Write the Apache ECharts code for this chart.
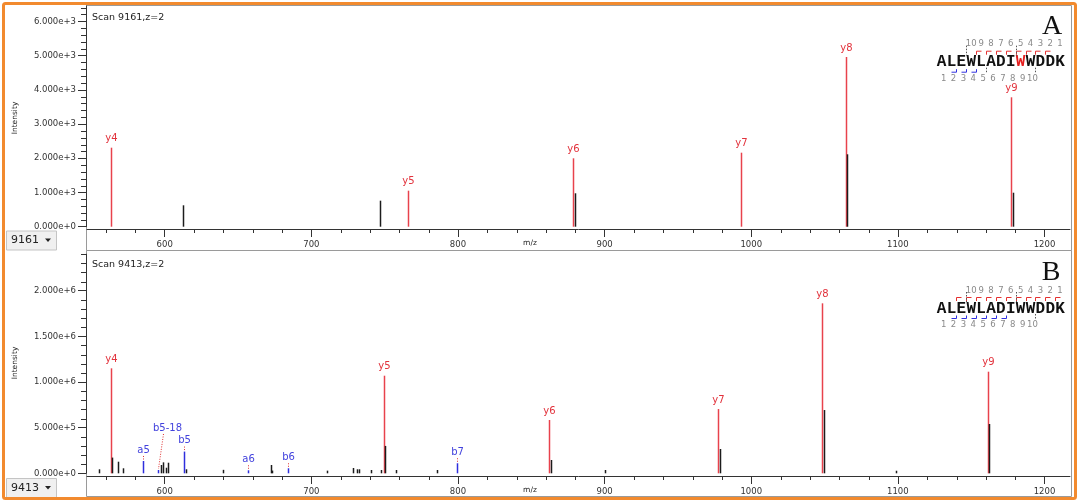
<!DOCTYPE html>
<html><head><meta charset="utf-8">
<script src="https://cdn.jsdelivr.net/npm/echarts@6/dist/echarts.min.js"></script>
<style>html,body{margin:0;padding:0;background:#fff}#c{width:1080px;height:503px}</style>
</head><body><div id="c"></div>
<script>
// ---------- data ----------
const xMajorTicks = [600, 700, 800, 900, 1000, 1100, 1200];
const xMinorTicks = [560, 580, 620, 640, 660, 680, 720, 740, 760, 780, 820, 840, 860, 880, 920, 940, 960, 980, 1020, 1040, 1060, 1080, 1120, 1140, 1160, 1180];
const yTopMajor = [0, 1000, 2000, 3000, 4000, 5000, 6000];
const yTopMinor = [200, 400, 600, 800, 1200, 1400, 1600, 1800, 2200, 2400, 2600, 2800, 3200, 3400, 3600, 3800, 4200, 4400, 4600, 4800, 5200, 5400, 5600, 5800, 6200, 6400];
const yBotMajor = [0, 500000, 1000000, 1500000, 2000000];
const yBotMinor = [100000, 200000, 300000, 400000, 600000, 700000, 800000, 900000, 1100000, 1200000, 1300000, 1400000, 1600000, 1700000, 1800000, 1900000, 2100000, 2200000, 2300000, 2400000];

// Scan 9161 (panel A)
const topYMz = [563.4, 765.7, 878.5, 993.2, 1064.4, 1177.0];
const topYInt = [2308, 1052, 1998, 2162, 4958, 3780];
const topYLabels = ['y4', 'y5', 'y6', 'y7', 'y8', 'y9'];
const topOtherMz = [612.5, 747.0, 879.9, 1065.5, 1178.5];
const topOtherInt = [625, 760, 976, 2115, 993];

// Scan 9413 (panel B)
const botYMz = [563.2, 749.4, 862.1, 977.1, 1048.1, 1161.7];
const botYInt = [1150000, 1069000, 584000, 704000, 1862000, 1113000];
const botYLabels = ['y4', 'y5', 'y6', 'y7', 'y8', 'y9'];
const botBMz = [585.4, 595.6, 613.4, 656.8, 684.3, 799.6];
const botBInt = [135000, 36000, 238000, 33000, 55000, 110000];
const botBLabels = ['a5', 'b5-18', 'b5', 'a6', 'b6', 'b7'];
const botOtherMz = [555.0, 564.1, 568.4, 571.4, 597.5, 599.0, 600.7, 602.3, 614.7, 639.6, 672.3, 673.2, 710.5, 728.6, 731.4, 732.7, 740.7, 747.3, 750.2, 757.5, 785.5, 863.7, 900.5, 978.7, 1049.6, 1098.5, 1162.4];
const botOtherInt = [44000, 172000, 127000, 55000, 91000, 120000, 61000, 116000, 44000, 38000, 91000, 30000, 29000, 58000, 44000, 44000, 36000, 36000, 300000, 36000, 36000, 146000, 36000, 266000, 693000, 28000, 540000];

const sequence = 'ALEWLADIWWDDK';

// ---------- styling ----------
const RED = '#E8424C', RED_TXT = '#E2323C', BLUE = '#2E2EDD', BLUE_TXT = '#4242DD', BLACK = '#1c1c1c';
const FONT = 'DejaVu Sans';
const labelOffsets = { 'b5-18': [9, -31] };
const X_MIN = 547, X_MAX = 1217.4;
const X_OFF = [2.3, 2.7];

function zip(a, b) { return a.map((v, i) => [v, b[i]]); }

function peakSeries(gi, mz, inten, color, labels, labelColor, connector, z) {
  return {
    type: 'custom', xAxisIndex: gi, yAxisIndex: gi, z: z || 2, clip: false,
    data: zip(mz, inten),
    renderItem: function (params, api) {
      const top = api.coord([api.value(0), api.value(1)]);
      const base = api.coord([api.value(0), 0]);
      const x = Math.round(top[0]) + 0.5;
      const children = [{
        type: 'line',
        shape: { x1: x, y1: base[1], x2: x, y2: top[1] },
        style: { stroke: color, lineWidth: 1.5 }
      }];
      if (labels) {
        const t = labels[params.dataIndex];
        const off = labelOffsets[t] || [0, 0];
        const gap = connector ? 6 : 4;
        const lx = x + off[0], ly = top[1] - gap + off[1];
        children.push({
          type: 'text',
          style: { text: t, x: lx, y: ly, align: 'center', verticalAlign: 'bottom', fill: labelColor, font: '10px "' + FONT + '"' }
        });
        if (connector) {
          children.push({
            type: 'line',
            shape: { x1: off[0] ? lx - 4 : x, y1: ly + 1, x2: x, y2: top[1] - 1 },
            style: { stroke: '#E03030', lineWidth: 1, lineDash: [1, 1.5] }
          });
        }
      }
      return { type: 'group', children: children };
    }
  };
}

// minor tick marks placed through the axes' own scales
function minorTickSeries(gi, dim, values) {
  return {
    type: 'custom', xAxisIndex: gi, yAxisIndex: gi, z: 5, clip: false, silent: true,
    data: values.map(v => [v]),
    renderItem: function (params, api) {
      const v = api.value(0);
      if (dim === 'x') {
        const p = api.coord([v, 0]);
        const x = Math.round(p[0]) + 0.5, y = p[1] + X_OFF[gi];
        return { type: 'line', shape: { x1: x, y1: y, x2: x, y2: y + 4 }, style: { stroke: '#333', lineWidth: 1 } };
      } else {
        const p = api.coord([X_MIN, v]);
        const y = Math.round(p[1]) + 0.5, x = p[0] - 1;
        return { type: 'line', shape: { x1: x - 5, y1: y, x2: x, y2: y }, style: { stroke: '#333', lineWidth: 1 } };
      }
    }
  };
}

// ---------- axes ----------
function xAxis(grid) {
  return { type: 'value', gridIndex: grid, position: 'bottom', min: X_MIN, max: X_MAX, offset: X_OFF[grid],
    axisLine: { show: true, onZero: false, lineStyle: { color: '#333', width: 1 } },
    axisTick: { show: true, inside: false, customValues: xMajorTicks, length: 8, lineStyle: { color: '#333' } },
    axisLabel: { show: true, customValues: xMajorTicks, fontSize: 8.5, fontFamily: FONT, color: '#333', margin: 11,
      formatter: v => String(Math.round(v)) },
    splitLine: { show: false } };
}
function yAxis(grid, max, major) {
  return { type: 'value', gridIndex: grid, position: 'left', min: 0, max: max, offset: 1,
    axisLine: { show: true, onZero: false, lineStyle: { color: '#333', width: 1 } },
    axisTick: { show: true, inside: false, customValues: major, length: 8, lineStyle: { color: '#333' } },
    axisLabel: { show: true, customValues: major, fontSize: 8.5, fontFamily: FONT, color: '#333', margin: 10,
      formatter: v => Number(v).toExponential(3) },
    splitLine: { show: false } };
}

// ---------- sequence annotation graphics ----------
const CH_W = 9.87, SEQ_X0 = 936.7;
function seqGraphics(cy, modIndex, redB, blueB, dotTop, dotBot) {
  const g = [];
  for (let i = 0; i < sequence.length; i++) {
    g.push({ type: 'text', silent: true, style: { text: sequence[i], x: SEQ_X0 + (i + 0.5) * CH_W, y: cy + 0.5, align: 'center', verticalAlign: 'middle',
      font: 'bold 16px "Liberation Mono"', fill: i === modIndex ? '#E41E1E' : '#111' } });
  }
  for (let n = 1; n <= 10; n++) {
    g.push({ type: 'text', silent: true, style: { text: String(n), x: SEQ_X0 + (13 - n + 0.5) * CH_W, y: cy - 17.5, align: 'center', verticalAlign: 'middle', font: '8.5px "' + FONT + '"', fill: '#8a8a8a' } });
    g.push({ type: 'text', silent: true, style: { text: String(n), x: SEQ_X0 + (n - 1 + 0.5) * CH_W + 2, y: cy + 17, align: 'center', verticalAlign: 'middle', font: '8.5px "' + FONT + '"', fill: '#8a8a8a' } });
  }
  redB.forEach(k => {
    const bx = Math.round(SEQ_X0 + k * CH_W) + 0.5;
    g.push({ type: 'polyline', silent: true, shape: { points: [[bx, cy - 7], [bx, cy - 10.5], [bx + 5, cy - 10.5]] }, style: { stroke: '#E53030', lineWidth: 1, fill: null } });
  });
  blueB.forEach(k => {
    const bx = Math.round(SEQ_X0 + k * CH_W) + 0.5;
    g.push({ type: 'polyline', silent: true, shape: { points: [[bx - 5, cy + 10.5], [bx, cy + 10.5], [bx, cy + 7.5]] }, style: { stroke: '#3030E0', lineWidth: 1, fill: null } });
  });
  dotTop.forEach(k => {
    const bx = Math.round(SEQ_X0 + k * CH_W) + 0.5;
    g.push({ type: 'line', silent: true, shape: { x1: bx, y1: cy - 16, x2: bx, y2: cy - 6 }, style: { stroke: '#555', lineWidth: 1, lineDash: [1.5, 1.5] } });
  });
  dotBot.forEach(k => {
    const bx = Math.round(SEQ_X0 + k * CH_W) + 0.5;
    g.push({ type: 'line', silent: true, shape: { x1: bx, y1: cy + 6, x2: bx, y2: cy + 12 }, style: { stroke: '#555', lineWidth: 1, lineDash: [1.5, 1.5] } });
  });
  return g;
}

function comboBox(y, text) {
  return [
    { type: 'rect', silent: true, shape: { x: 6.5, y: y + 0.5, width: 50, height: 19 }, style: { fill: '#f0f0f0', stroke: '#c4c4c4', lineWidth: 1 } },
    { type: 'text', silent: true, style: { text: text, x: 11, y: y + 10, verticalAlign: 'middle', font: '11px "' + FONT + '"', fill: '#222' } },
    { type: 'polygon', silent: true, shape: { points: [[45, y + 8], [51, y + 8], [48, y + 11.5]] }, style: { fill: '#222' } }
  ];
}

const graphics = [].concat(
  [
    { type: 'rect', silent: true, z: -1, shape: { x: 86.5, y: 5.5, width: 985, height: 245 }, style: { fill: null, stroke: '#9a9a9a', lineWidth: 1 } },
    { type: 'rect', silent: true, z: -1, shape: { x: 86.5, y: 250.5, width: 985, height: 246 }, style: { fill: null, stroke: '#9a9a9a', lineWidth: 1 } },
    { type: 'rect', silent: true, z: 100, shape: { x: 3.5, y: 3.5, width: 1072, height: 495, r: 2 }, style: { fill: null, stroke: '#F28A2E', lineWidth: 3 } },
    { type: 'text', silent: true, style: { text: 'Scan 9161,z=2', x: 92, y: 18, verticalAlign: 'middle', font: '9.5px "' + FONT + '"', fill: '#222' } },
    { type: 'text', silent: true, style: { text: 'Scan 9413,z=2', x: 92, y: 265, verticalAlign: 'middle', font: '9.5px "' + FONT + '"', fill: '#222' } },
    { type: 'text', silent: true, rotation: Math.PI / 2, x: 15, y: 118, style: { text: 'Intensity', x: 0, y: 0, align: 'center', verticalAlign: 'middle', font: '7.5px "' + FONT + '"', fill: '#222' } },
    { type: 'text', silent: true, rotation: Math.PI / 2, x: 15, y: 363, style: { text: 'Intensity', x: 0, y: 0, align: 'center', verticalAlign: 'middle', font: '7.5px "' + FONT + '"', fill: '#222' } },
    { type: 'text', silent: true, style: { text: 'm/z', x: 530, y: 243.5, align: 'center', verticalAlign: 'middle', font: '7.5px "' + FONT + '"', fill: '#222' } },
    { type: 'text', silent: true, style: { text: 'm/z', x: 530, y: 490.5, align: 'center', verticalAlign: 'middle', font: '7.5px "' + FONT + '"', fill: '#222' } },
    { type: 'text', silent: true, style: { text: 'A', x: 1052, y: 27, align: 'center', verticalAlign: 'middle', font: '28px "Liberation Serif"', fill: '#111' } },
    { type: 'text', silent: true, style: { text: 'B', x: 1051, y: 273, align: 'center', verticalAlign: 'middle', font: '28px "Liberation Serif"', fill: '#111' } }
  ],
  comboBox(230.5, '9161'),
  comboBox(478, '9413'),
  seqGraphics(61.7, 8, [4, 5, 6, 7, 8, 9, 10, 11], [2, 3, 4], [3, 8], [5, 10]),
  seqGraphics(308, -1, [2, 3, 4, 5, 6, 7, 8, 9, 10, 11, 12], [2, 3, 4, 5, 6, 7], [3, 8], [10])
);

const option = {
  animation: false,
  backgroundColor: '#ffffff',
  grid: [
    { left: 87, top: 5.9, width: 983, height: 220.8 },
    { left: 87, top: 254.2, width: 983, height: 219.1 }
  ],
  xAxis: [xAxis(0), xAxis(1)],
  yAxis: [yAxis(0, 6450, yTopMajor), yAxis(1, 2400000, yBotMajor)],
  series: [
    minorTickSeries(0, 'x', xMinorTicks),
    minorTickSeries(1, 'x', xMinorTicks),
    minorTickSeries(0, 'y', yTopMinor),
    minorTickSeries(1, 'y', yBotMinor),
    peakSeries(0, topOtherMz, topOtherInt, BLACK, null, null, false, 3),
    peakSeries(0, topYMz, topYInt, RED, topYLabels, RED_TXT, false, 2),
    peakSeries(1, botOtherMz, botOtherInt, BLACK, null, null, false, 3),
    peakSeries(1, botYMz, botYInt, RED, botYLabels, RED_TXT, false, 2),
    peakSeries(1, botBMz, botBInt, BLUE, botBLabels, BLUE_TXT, true, 2)
  ],
  graphic: graphics
};

const chart = echarts.init(document.getElementById('c'), null, { renderer: 'canvas' });
chart.setOption(option);
</script>
</body></html>
